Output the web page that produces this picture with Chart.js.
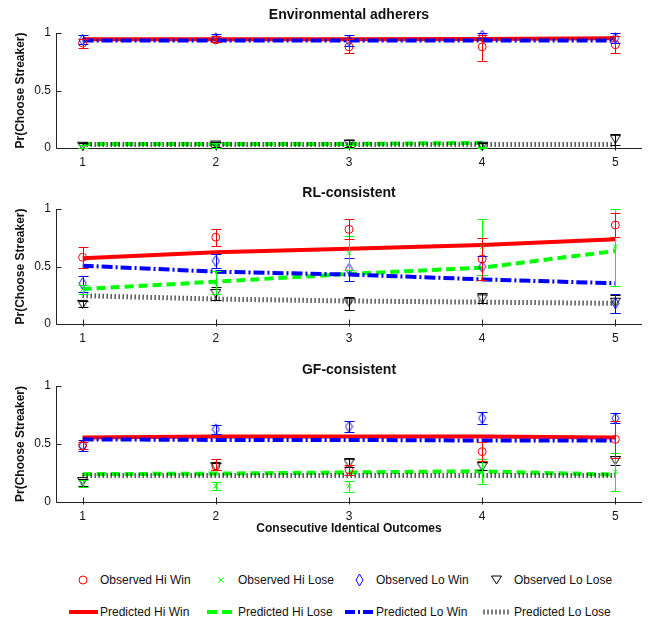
<!DOCTYPE html>
<html><head><meta charset="utf-8">
<script src="https://cdn.jsdelivr.net/npm/chart.js@4.4.1/dist/chart.umd.min.js"></script>
<style>
html,body{margin:0;padding:0;background:#fff;}
#wrap{position:relative;width:648px;height:621px;overflow:hidden;}
#wrap canvas{position:absolute;left:0;}
#legend{position:absolute;left:0;top:540px;}
</style></head>
<body><div id="wrap">
<canvas id="c1" width="648" height="172" style="top:0px;width:648px;height:172px"></canvas>
<canvas id="c2" width="648" height="172" style="top:172px;width:648px;height:172px"></canvas>
<canvas id="c3" width="648" height="196" style="top:344px;width:648px;height:196px"></canvas>
<svg id="legend" width="648" height="81" xmlns="http://www.w3.org/2000/svg"></svg>
</div>
<script>
// ---------- data ----------
const xValues = [1, 2, 3, 4, 5];
const xTickLabels = ['1', '2', '3', '4', '5'];
const yTickValues = [0, 0.5, 1];
const yTickLabels = ['0', '0.5', '1'];
const panelTitles = ['Environmental adherers', 'RL-consistent', 'GF-consistent'];
const xAxisTitle = 'Consecutive Identical Outcomes';
const yAxisTitle = 'Pr(Choose Streaker)';
const seriesNames = ['Observed Hi Win', 'Observed Hi Lose', 'Observed Lo Win', 'Observed Lo Lose',
                     'Predicted Hi Win', 'Predicted Hi Lose', 'Predicted Lo Win', 'Predicted Lo Lose'];

// Environmental adherers
const eaObsHiWin     = [0.913, 0.94, 0.88, 0.88, 0.898];
const eaObsHiWinLo   = [0.866, 0.92, 0.825, 0.758, 0.825];
const eaObsHiWinHi   = [0.95, 0.97, 0.947, 0.98, 0.97];
const eaObsHiLose    = [0.01, 0.02, 0.01, 0.0, null];
const eaObsHiLoseLo  = [0.0, 0.0, 0.0, 0.0, null];
const eaObsHiLoseHi  = [0.03, 0.04, 0.03, 0.01, null];
const eaObsLoWin     = [0.94, 0.955, 0.934, 0.975, 0.956];
const eaObsLoWinLo   = [0.907, 0.92, 0.89, 0.955, 0.91];
const eaObsLoWinHi   = [0.98, 0.99, 0.98, 1.0, 1.0];
const eaObsLoLose    = [0.02, 0.03, 0.04, 0.02, 0.08];
const eaObsLoLoseLo  = [0.0, 0.01, 0.01, 0.0, 0.03];
const eaObsLoLoseHi  = [0.04, 0.05, 0.07, 0.04, 0.12];
const eaPredHiWin    = [0.945, 0.945, 0.945, 0.947, 0.955];
const eaPredHiLose   = [0.035, 0.035, 0.035, 0.045, null];
const eaPredLoWin    = [0.935, 0.935, 0.935, 0.935, 0.935];
const eaPredLoLose   = [0.03, 0.03, 0.03, 0.03, 0.03];

// RL-consistent
const rlObsHiWin     = [0.58, 0.755, 0.823, 0.565, 0.861];
const rlObsHiWinLo   = [0.49, 0.68, 0.736, 0.38, 0.76];
const rlObsHiWinHi   = [0.667, 0.826, 0.91, 0.75, 0.962];
const rlObsHiLose    = [0.30, 0.35, 0.62, 0.67, 0.672];
const rlObsHiLoseLo  = [0.26, 0.26, 0.47, 0.426, 0.333];
const rlObsHiLoseHi  = [0.342, 0.46, 0.767, 0.91, 1.0];
const rlObsLoWin     = [0.354, 0.548, 0.478, 0.498, 0.18];
const rlObsLoWinLo   = [0.28, 0.49, 0.374, 0.426, 0.1];
const rlObsLoWinHi   = [0.417, 0.61, 0.577, 0.59, 0.258];
const rlObsLoLose    = [0.175, 0.27, 0.194, 0.223, 0.194];
const rlObsLoLoseLo  = [0.15, 0.21, 0.12, 0.18, 0.1];
const rlObsLoLoseHi  = [0.2, 0.32, 0.238, 0.267, 0.25];
const rlPredHiWin    = [0.571, 0.623, 0.655, 0.687, 0.736];
const rlPredHiLose   = [0.304, 0.368, 0.435, 0.49, 0.635];
const rlPredLoWin    = [0.507, 0.455, 0.43, 0.388, 0.354];
const rlPredLoLose   = [0.246, 0.217, 0.2, 0.19, 0.18];

// GF-consistent
const gfObsHiWin     = [0.49, 0.31, 0.28, 0.434, 0.54];
const gfObsHiWinLo   = [0.46, 0.275, 0.23, 0.35, 0.376];
const gfObsHiWinHi   = [0.517, 0.367, 0.318, 0.52, 0.702];
const gfObsHiLose    = [0.16, 0.136, 0.136, 0.26, 0.26];
const gfObsHiLoseLo  = [0.13, 0.1, 0.087, 0.159, 0.092];
const gfObsHiLoseHi  = [0.19, 0.173, 0.179, 0.367, 0.42];
const gfObsLoWin     = [0.486, 0.627, 0.65, 0.723, 0.723];
const gfObsLoWinLo   = [0.442, 0.587, 0.607, 0.673, 0.679];
const gfObsLoWinHi   = [0.535, 0.665, 0.694, 0.78, 0.766];
const gfObsLoLose    = [0.18, 0.309, 0.338, 0.309, 0.361];
const gfObsLoLoseLo  = [0.136, 0.275, 0.303, 0.28, 0.318];
const gfObsLoLoseHi  = [0.2, 0.338, 0.376, 0.347, 0.396];
const gfPredHiWin    = [0.555, 0.565, 0.565, 0.565, 0.555];
const gfPredHiLose   = [0.24, 0.245, 0.255, 0.265, 0.235];
const gfPredLoWin    = [0.54, 0.535, 0.535, 0.53, 0.53];
const gfPredLoLose   = [0.228, 0.228, 0.228, 0.228, 0.228];

// ---------- styling ----------
const FONT = '"Liberation Sans", Arial, Helvetica, sans-serif';
const INK = '#111111';
const RED = '#ff0000', GREEN = '#00ff00', BLUE = '#0000ff', BLACK = '#000000';
Chart.defaults.font.family = FONT;
Chart.defaults.color = INK;

function diamondImg() {
  const c = document.createElement('canvas'); c.width = 9; c.height = 13;
  const g = c.getContext('2d'); g.strokeStyle = BLUE; g.lineWidth = 1;
  g.beginPath(); g.moveTo(4.5, 1); g.lineTo(8, 6.5); g.lineTo(4.5, 12); g.lineTo(1, 6.5); g.closePath(); g.stroke();
  return c;
}
function triDownImg() {
  const c = document.createElement('canvas'); c.width = 11; c.height = 10;
  const g = c.getContext('2d'); g.strokeStyle = BLACK; g.lineWidth = 1;
  g.beginPath(); g.moveTo(0.5, 1.5); g.lineTo(10.5, 1.5); g.lineTo(5.5, 9.5); g.closePath(); g.stroke();
  return c;
}
const DIAMOND = diamondImg();
const TRIDOWN = triDownImg();

function pts(arr) { return xValues.map((x, i) => ({ x: x, y: arr[i] })); }

function obsDs(label, vals, lo, hi, color, ps, r) {
  return {
    label, data: pts(vals), showLine: false, clip: false,
    errLo: lo, errHi: hi, errColor: color,
    pointStyle: ps, pointRadius: r, pointHoverRadius: r,
    pointBorderColor: color, pointBackgroundColor: 'rgba(0,0,0,0)', pointBorderWidth: 1,
    borderColor: color, backgroundColor: 'rgba(0,0,0,0)'
  };
}
function predDs(label, vals, color, dash, width) {
  return {
    label, data: pts(vals), borderColor: color, backgroundColor: color, borderWidth: width || 4,
    borderDash: dash, borderCapStyle: 'butt', borderJoinStyle: 'miter',
    pointRadius: 0, pointHoverRadius: 0, tension: 0, fill: false, spanGaps: false
  };
}

const errorBarPlugin = {
  id: 'errbars',
  afterDatasetsDraw(chart) {
    const { ctx, scales: { x, y } } = chart;
    chart.data.datasets.forEach(ds => {
      if (!ds.errLo) return;
      ctx.save();
      ctx.strokeStyle = ds.errColor; ctx.lineWidth = 1;
      ds.data.forEach((p, i) => {
        const lo = ds.errLo[i], hi = ds.errHi[i];
        if (p.y == null || lo == null || hi == null) return;
        const px = Math.round(x.getPixelForValue(p.x)) + 0.5;
        const y1 = Math.round(y.getPixelForValue(lo)) + 0.5;
        const y2 = Math.round(y.getPixelForValue(hi)) + 0.5;
        ctx.beginPath();
        ctx.moveTo(px, y1); ctx.lineTo(px, y2);
        ctx.moveTo(px - 5, y1); ctx.lineTo(px + 5, y1);
        ctx.moveTo(px - 5, y2); ctx.lineTo(px + 5, y2);
        ctx.stroke();
      });
      ctx.restore();
    });
  }
};

const axesPlugin = {
  id: 'matAxes',
  beforeDatasetsDraw(chart) {
    const { ctx, chartArea: a, scales: { x, y } } = chart;
    ctx.save();
    ctx.strokeStyle = '#222'; ctx.lineWidth = 1;
    const L = Math.round(a.left) + 0.5, B = Math.round(a.bottom) + 0.5;
    ctx.beginPath();
    ctx.moveTo(L, Math.round(a.top)); ctx.lineTo(L, B); ctx.lineTo(Math.round(a.right), B);
    xValues.forEach(v => { const px = Math.round(x.getPixelForValue(v)) + 0.5; ctx.moveTo(px, B + 2); ctx.lineTo(px, B - 5); });
    yTickValues.forEach(v => { const py = Math.round(y.getPixelForValue(v)) + 0.5; ctx.moveTo(L, py); ctx.lineTo(L + 5, py); });
    ctx.stroke();
    ctx.restore();
  }
};

function makePanel(id, title, titlePad, xH, showXTitle, s) {
  const datasets = [
    obsDs(seriesNames[3], s.oLL, s.oLLlo, s.oLLhi, BLACK, TRIDOWN, 5),
    obsDs(seriesNames[2], s.oLW, s.oLWlo, s.oLWhi, BLUE, DIAMOND, 5),
    obsDs(seriesNames[1], s.oHL, s.oHLlo, s.oHLhi, GREEN, 'crossRot', 3),
    obsDs(seriesNames[0], s.oHW, s.oHWlo, s.oHWhi, RED, 'circle', 4),
    predDs(seriesNames[6], s.pLW, BLUE, [11, 3, 2, 3]),
    predDs(seriesNames[7], s.pLL, BLACK, [1, 3], 5),
    predDs(seriesNames[4], s.pHW, RED, []),
    predDs(seriesNames[5], s.pHL, GREEN, [9, 5])
  ];
  return new Chart(document.getElementById(id), {
    type: 'line',
    data: { datasets },
    plugins: [axesPlugin, errorBarPlugin],
    options: {
      responsive: false, animation: false, devicePixelRatio: 1,
      events: [],
      layout: { padding: { left: 0, right: 5, top: 0, bottom: 0 } },
      plugins: {
        legend: { display: false }, tooltip: { enabled: false },
        title: { display: true, text: title, fullSize: false, color: INK,
                 font: { size: 14, weight: 'bold', lineHeight: 1 }, padding: titlePad }
      },
      scales: {
        x: {
          type: 'linear', min: 0.8, max: 5.2,
          grid: { display: false, drawTicks: false }, border: { display: false },
          afterBuildTicks: sc => { sc.ticks = xValues.map(v => ({ value: v })); },
          afterFit: sc => { sc.height = xH; },
          ticks: { autoSkip: false, maxRotation: 0, padding: 7, color: INK, font: { size: 12 },
                   callback: v => xTickLabels[xValues.indexOf(v)] },
          title: { display: showXTitle, text: xAxisTitle, color: INK,
                   font: { size: 12, weight: 'bold', lineHeight: 1 }, padding: { top: 0, bottom: 5 } }
        },
        y: {
          type: 'linear', min: 0, max: 1,
          grid: { display: false, drawTicks: false }, border: { display: false },
          afterBuildTicks: sc => { sc.ticks = yTickValues.map(v => ({ value: v })); },
          afterFit: sc => { sc.width = 56; },
          ticks: { padding: 5, color: INK, font: { size: 12 },
                   callback: v => yTickLabels[yTickValues.indexOf(v)] },
          title: { display: true, text: yAxisTitle, color: INK,
                   font: { size: 12, weight: 'bold', lineHeight: 1 }, padding: { top: 15, bottom: 0 } }
        }
      }
    }
  });
}

makePanel('c1', panelTitles[0], { top: 8, bottom: 11 }, 24, false, {
  oHW: eaObsHiWin, oHWlo: eaObsHiWinLo, oHWhi: eaObsHiWinHi,
  oHL: eaObsHiLose, oHLlo: eaObsHiLoseLo, oHLhi: eaObsHiLoseHi,
  oLW: eaObsLoWin, oLWlo: eaObsLoWinLo, oLWhi: eaObsLoWinHi,
  oLL: eaObsLoLose, oLLlo: eaObsLoLoseLo, oLLhi: eaObsLoLoseHi,
  pHW: eaPredHiWin, pHL: eaPredHiLose, pLW: eaPredLoWin, pLL: eaPredLoLose
});
makePanel('c2', panelTitles[1], { top: 14, bottom: 9 }, 20, false, {
  oHW: rlObsHiWin, oHWlo: rlObsHiWinLo, oHWhi: rlObsHiWinHi,
  oHL: rlObsHiLose, oHLlo: rlObsHiLoseLo, oHLhi: rlObsHiLoseHi,
  oLW: rlObsLoWin, oLWlo: rlObsLoWinLo, oLWhi: rlObsLoWinHi,
  oLL: rlObsLoLose, oLLlo: rlObsLoLoseLo, oLLhi: rlObsLoLoseHi,
  pHW: rlPredHiWin, pHL: rlPredHiLose, pLW: rlPredLoWin, pLL: rlPredLoLose
});
makePanel('c3', panelTitles[2], { top: 19, bottom: 9 }, 38, true, {
  oHW: gfObsHiWin, oHWlo: gfObsHiWinLo, oHWhi: gfObsHiWinHi,
  oHL: gfObsHiLose, oHLlo: gfObsHiLoseLo, oHLhi: gfObsHiLoseHi,
  oLW: gfObsLoWin, oLWlo: gfObsLoWinLo, oLWhi: gfObsLoWinHi,
  oLL: gfObsLoLose, oLLlo: gfObsLoLoseLo, oLLhi: gfObsLoLoseHi,
  pHW: gfPredHiWin, pHL: gfPredHiLose, pLW: gfPredLoWin, pLL: gfPredLoLose
});

// ---------- legend ----------
(function buildLegend() {
  const svg = document.getElementById('legend');
  const NS = 'http://www.w3.org/2000/svg';
  function el(tag, attrs) { const e = document.createElementNS(NS, tag); for (const k in attrs) e.setAttribute(k, attrs[k]); svg.appendChild(e); return e; }
  const textX = [100, 238, 376, 514];
  const row1 = 40, row2 = 72;
  el('circle', { cx: 83, cy: row1, r: 4, fill: 'none', stroke: RED, 'stroke-width': 1 });
  el('path', { d: `M218.5 ${row1 - 2.5} L223.5 ${row1 + 2.5} M218.5 ${row1 + 2.5} L223.5 ${row1 - 2.5}`, stroke: GREEN, 'stroke-width': 1, fill: 'none' });
  el('polygon', { points: `359.5,${row1 - 6} 363,${row1} 359.5,${row1 + 6} 356,${row1}`, fill: 'none', stroke: BLUE, 'stroke-width': 1 });
  el('polygon', { points: `491.5,${row1 - 4} 501.5,${row1 - 4} 496.5,${row1 + 4}`, fill: 'none', stroke: BLACK, 'stroke-width': 1 });
  el('line', { x1: 69, y1: row2, x2: 98, y2: row2, stroke: RED, 'stroke-width': 4 });
  el('line', { x1: 207, y1: row2, x2: 236, y2: row2, stroke: GREEN, 'stroke-width': 4, 'stroke-dasharray': '10,5' });
  el('line', { x1: 345, y1: row2, x2: 374, y2: row2, stroke: BLUE, 'stroke-width': 4, 'stroke-dasharray': '10,3,2,3' });
  el('line', { x1: 483.5, y1: row2, x2: 508.5, y2: row2, stroke: BLACK, 'stroke-width': 5, 'stroke-dasharray': '1,3' });
  for (let i = 0; i < 4; i++) {
    const t1 = el('text', { x: textX[i], y: row1 + 4, 'font-family': FONT, 'font-size': 12, fill: INK });
    t1.textContent = seriesNames[i];
    const t2 = el('text', { x: textX[i], y: row2 + 4, 'font-family': FONT, 'font-size': 12, fill: INK });
    t2.textContent = seriesNames[i + 4];
  }
})();
</script>
</body></html>
